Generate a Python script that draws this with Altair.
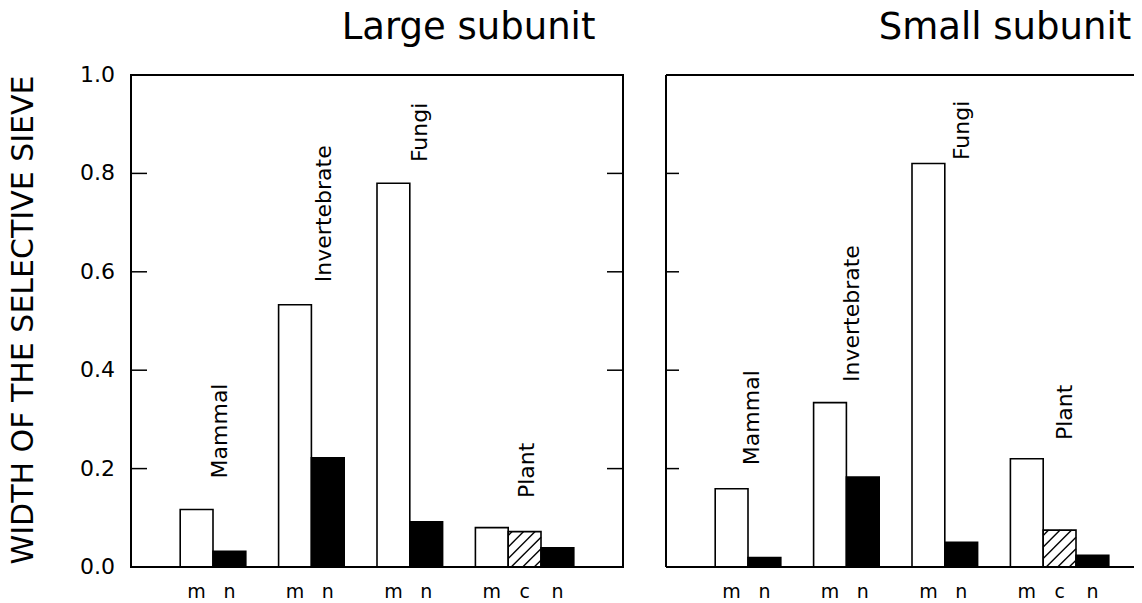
import altair as alt
import pandas as pd

# ---------------- data ----------------
panel_titles = ["Large subunit", "Small subunit"]
groups = ["Mammal", "Invertebrate", "Fungi", "Plant"]
members = [["m", "n"], ["m", "n"], ["m", "n"], ["m", "c", "n"]]
large_values = [0.117, 0.032, 0.533, 0.222, 0.780, 0.092, 0.080, 0.072, 0.039]
small_values = [0.159, 0.019, 0.334, 0.183, 0.820, 0.050, 0.220, 0.075, 0.024]
y_ticks = [0.0, 0.2, 0.4, 0.6, 0.8, 1.0]
y_title = "WIDTH OF THE SELECTIVE SIEVE"
# group-label anchors (x in slot units within a panel, start height in data units)
label_x = [[2.72, 5.88, 8.81, 12.07], [2.62, 5.66, 9.02, 12.16]]
label_y = [[0.180, 0.579, 0.823, 0.140], [0.207, 0.376, 0.827, 0.258]]

# ---------------- layout constants ----------------
UNIT = 32.8            # px per slot unit
PLOT_H = 492
W = 1003
XMAX = W / UNIT
PANEL_W = 15.0
PANEL_OFF = [0.0, 535 / UNIT]
FONT = "DejaVu Sans"
TOP = 67
BOTTOM = 40

rows, lab_rows, hatch_rows = [], [], []
for p, vals in enumerate([large_values, small_values]):
    k = 0
    for gi, g in enumerate(groups):
        for mi, mem in enumerate(members[gi]):
            pos = 2 + 3 * gi + mi + PANEL_OFF[p]
            v = vals[k]
            k += 1
            rows.append(dict(panel=p, group=g, member=mem, value=v,
                             x0=pos - 0.5, x1=pos + 0.5, xc=pos, base=0.0))
            if mem == "c":
                x0px = (pos - 0.5) * UNIT
                w = UNIT
                h = v * PLOT_H
                sp = 11.5
                for j in range(-int(h // sp) - 2, int(w // sp) + 2):
                    c = j * sp + 3
                    a = max(0.0, c)
                    b = min(w, c + h)
                    if b - a > 0.5:
                        hatch_rows.append(dict(hx0=(x0px + a) / UNIT, hx1=(x0px + b) / UNIT,
                                               hy0=(a - c) / PLOT_H, hy1=(b - c) / PLOT_H))
        lab_rows.append(dict(text=g, lx=label_x[p][gi] + PANEL_OFF[p], ly=label_y[p][gi]))

df = pd.DataFrame(rows)
lab_df = pd.DataFrame(lab_rows)
hatch_df = pd.DataFrame(hatch_rows)

xs = alt.Scale(domain=[0, XMAX], nice=False, zero=False)
ys = alt.Scale(domain=[0, 1], nice=False, zero=True)

bars = alt.Chart(df).mark_rect(stroke="black", strokeWidth=1.6).encode(
    x=alt.X("x0:Q", scale=xs, axis=None),
    x2="x1:Q",
    y=alt.Y("value:Q", scale=ys, axis=None),
    y2="base:Q",
    fill=alt.Fill("member:N", scale=alt.Scale(domain=["m", "n", "c"],
                                              range=["white", "black", "white"]), legend=None),
)

hatch = alt.Chart(hatch_df).mark_rule(color="black", strokeWidth=1.4).encode(
    x=alt.X("hx0:Q", scale=xs, axis=None), x2="hx1:Q",
    y=alt.Y("hy0:Q", scale=ys, axis=None), y2="hy1:Q",
)

xlabels = alt.Chart(df).mark_text(font=FONT, fontSize=19, baseline="middle", align="center",
                                  dy=25, color="black").encode(
    x=alt.X("xc:Q", scale=xs, axis=None),
    y=alt.Y("base:Q", scale=ys, axis=None),
    text="member:N",
)

glabels = alt.Chart(lab_df).mark_text(font=FONT, fontSize=22, angle=270, align="left",
                                      baseline="middle", color="black").encode(
    x=alt.X("lx:Q", scale=xs, axis=None),
    y=alt.Y("ly:Q", scale=ys, axis=None),
    text="text:N",
)

# frames
frame1_df = pd.DataFrame([dict(a=PANEL_OFF[0], b=PANEL_OFF[0] + PANEL_W, lo=0.0, hi=1.0)])
frame1 = alt.Chart(frame1_df).mark_rect(fillOpacity=0, stroke="black", strokeWidth=2).encode(
    x=alt.X("a:Q", scale=xs, axis=None), x2="b:Q",
    y=alt.Y("lo:Q", scale=ys, axis=None), y2="hi:Q",
)
frame2_df = pd.DataFrame([
    dict(a=PANEL_OFF[1], b=XMAX, lo=0.0, hi=0.0),
    dict(a=PANEL_OFF[1], b=XMAX, lo=1.0, hi=1.0),
    dict(a=PANEL_OFF[1], b=PANEL_OFF[1], lo=0.0, hi=1.0),
])
frame2 = alt.Chart(frame2_df).mark_rule(color="black", strokeWidth=2).encode(
    x=alt.X("a:Q", scale=xs, axis=None), x2="b:Q",
    y=alt.Y("lo:Q", scale=ys, axis=None), y2="hi:Q",
)

# inward tick marks
tick_rows = []
for t in y_ticks[1:-1]:
    tick_rows.append(dict(a=PANEL_OFF[0], b=PANEL_OFF[0] + 16 / UNIT, t=t))
    tick_rows.append(dict(a=PANEL_OFF[0] + PANEL_W - 16 / UNIT, b=PANEL_OFF[0] + PANEL_W, t=t))
    tick_rows.append(dict(a=PANEL_OFF[1], b=PANEL_OFF[1] + 13 / UNIT, t=t))
ticks = alt.Chart(pd.DataFrame(tick_rows)).mark_rule(color="black", strokeWidth=1.5).encode(
    x=alt.X("a:Q", scale=xs, axis=None), x2="b:Q",
    y=alt.Y("t:Q", scale=ys, axis=None),
)

# y tick labels
ytl_df = pd.DataFrame(dict(t=y_ticks, lab=[f"{v:.1f}" for v in y_ticks]))
ytl = alt.Chart(ytl_df).mark_text(font=FONT, fontSize=22, align="left", baseline="middle",
                                  color="black").encode(
    x=alt.value(-51),
    y=alt.Y("t:Q", scale=ys, axis=None),
    text="lab:N",
)

# y title
ytitle = alt.Chart(pd.DataFrame(dict(s=[y_title]))).mark_text(
    font=FONT, fontSize=30, angle=270, align="center", baseline="middle", color="black"
).encode(x=alt.value(-107), y=alt.value(245), text="s:N")

# panel titles
ttl_df = pd.DataFrame(dict(s=panel_titles, px=[337.5, 874.0]))
titles = alt.Chart(ttl_df).mark_text(font=FONT, fontSize=37, align="center",
                                     baseline="alphabetic", color="black").encode(
    x=alt.X("px:Q", scale=alt.Scale(domain=[0, W], range=[0, W], nice=False, zero=False), axis=None),
    y=alt.value(-36),
    text="s:N",
)

chart = alt.layer(bars, hatch, frame1, frame2, ticks, xlabels, glabels, ytl, ytitle, titles).resolve_scale(
    x="independent"
).properties(
    width=W, height=PLOT_H,
    autosize=alt.AutoSizeParams(type="none"),
    padding={"left": 123, "top": TOP, "right": 0, "bottom": BOTTOM},
    background="white",
).configure_view(stroke=None)

chart.save("out.html", embed_options={"renderer": "svg", "actions": False})
